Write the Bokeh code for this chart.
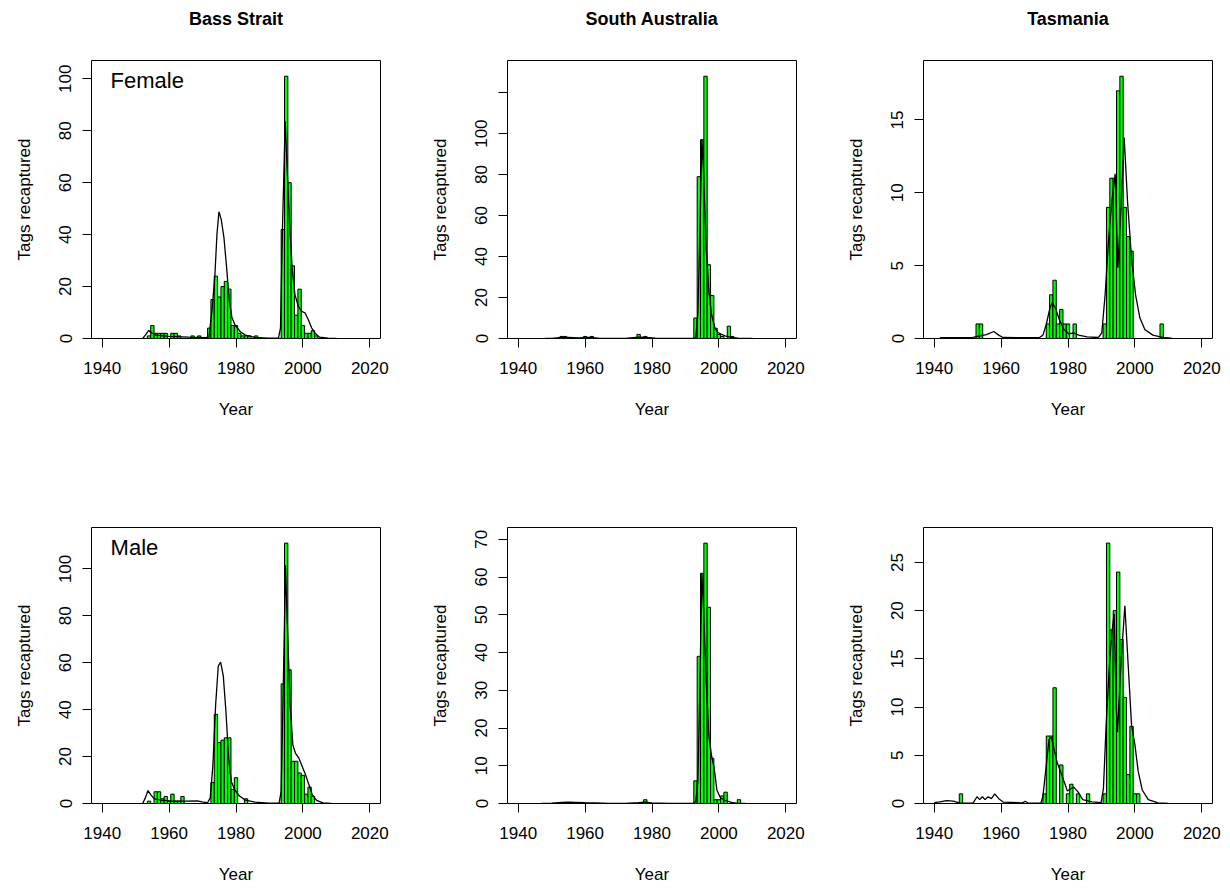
from bokeh.plotting import figure
from bokeh.layouts import column, row
from bokeh.models import Range1d, FixedTicker, Label, Title
from bokeh.embed import file_html
from bokeh.resources import INLINE

regions = ["Bass Strait", "South Australia", "Tasmania"]
sexes = ["Female", "Male"]
x_ticks = [1940, 1960, 1980, 2000, 2020]

# ---------------- Bass Strait, Female ----------------
bs_f_years = [1954, 1955, 1956, 1957, 1958, 1959, 1961, 1962, 1963, 1967, 1969,
              1972, 1973, 1974, 1975, 1976, 1977, 1978, 1979, 1980, 1981, 1982, 1983, 1984, 1986,
              1994, 1995, 1996, 1997, 1998, 1999, 2000, 2001, 2002, 2003, 2004]
bs_f_counts = [1, 5, 2, 2, 2, 2, 2, 2, 1, 1, 1,
               4, 15, 24, 16, 20, 22, 19, 5, 5, 2, 1, 1, 1, 1,
               42, 101, 60, 28, 9, 19, 5, 2, 2, 3, 1]
bs_f_dens_x = [1952.1, 1952.9, 1953.9, 1954.7, 1956.0, 1960.0, 1965.9, 1970.9, 1971.9, 1972.9,
               1973.7, 1974.3, 1974.9, 1975.6, 1976.4, 1977.2, 1978.0, 1978.8, 1979.8, 1981.3,
               1982.8, 1985.7, 1989.7, 1992.7, 1993.3, 1993.9, 1994.7, 1995.2, 1996.0, 1996.8,
               1997.6, 1998.6, 1999.6, 2000.6, 2001.6, 2002.6, 2003.8, 2005.0, 2007.5, 2010.0]
bs_f_dens_y = [0, 1.3, 3.1, 2.2, 1.3, 0.8, 0.5, 0.3, 0.5, 11.8,
               24.6, 40, 48.8, 45.8, 38.8, 27.2, 14.4, 8, 5, 2.6,
               1.3, 0.4, 0.1, 0.1, 4, 42.6, 83.7, 68, 45, 27,
               17, 12.5, 10.5, 9.9, 7.3, 4.1, 1.8, 0.5, 0.1, 0]
bs_f_yticks = [0, 20, 40, 60, 80, 100]

# ---------------- South Australia, Female ----------------
sa_f_years = [1953, 1954, 1960, 1962, 1976, 1978, 1993, 1994, 1995, 1996, 1997, 1998, 1999,
              2000, 2001, 2003, 2004]
sa_f_counts = [1, 1, 1, 1, 2, 1, 10, 79, 97, 128, 36, 21, 5, 2, 1, 6, 1]
sa_f_dens_x = [1948, 1950, 1953, 1955, 1958, 1961, 1964, 1968, 1972, 1976, 1978, 1981, 1985, 1990,
               1992.4, 1993.1, 1993.7, 1994.3, 1994.9, 1995.4, 1996.2, 1997.0, 1997.8, 1998.8,
               1999.8, 2001.8, 2003.8, 2005.7, 2008, 2010]
sa_f_dens_y = [0, 0.1, 0.5, 0.5, 0.3, 0.5, 0.2, 0.05, 0.1, 0.6, 0.5, 0.2, 0.05, 0.05,
               0.1, 0.7, 11.7, 50.9, 97.3, 81.8, 44.3, 23.1, 11.7, 5.2,
               2.8, 1.3, 0.5, 0.2, 0.05, 0]
sa_f_yticks = [0, 20, 40, 60, 80, 100, 120]

# ---------------- Tasmania, Female ----------------
ta_f_years = [1953, 1954, 1974, 1975, 1976, 1977, 1978, 1979, 1980, 1982,
              1991, 1992, 1993, 1994, 1995, 1996, 1997, 1998, 1999, 2008]
ta_f_counts = [1, 1, 1, 3, 4, 1, 2, 1, 1, 1,
               1, 9, 11, 11, 17, 18, 9, 7, 6, 1]
ta_f_dens_x = [1941.7, 1951.6, 1953.6, 1955.6, 1957.8, 1959.3, 1960.5, 1971.4, 1972.5, 1973.5,
               1974.6, 1975.3, 1976.3, 1977.5, 1978.8, 1980.2, 1981.7, 1983.2, 1985.7, 1989.1,
               1990.1, 1991.1, 1992.1, 1993.1, 1994.1, 1994.9, 1995.9, 1996.8, 1997.8, 1999.0,
               2000.2, 2001.5, 2003.0, 2005.4, 2008.9, 2011]
ta_f_dens_y = [0.05, 0.07, 0.18, 0.27, 0.48, 0.23, 0.07, 0.05, 0.23, 0.96,
               2.1, 2.45, 2.06, 1.24, 0.62, 0.32, 0.39, 0.23, 0.11, 0.07,
               0.39, 3.0, 6.7, 9.4, 11.3, 4.85, 9.2, 13.8, 9.4, 5.5,
               3.0, 1.4, 0.6, 0.23, 0.05, 0.02]
ta_f_yticks = [0, 5, 10, 15]

# ---------------- Bass Strait, Male ----------------
bs_m_years = [1954, 1956, 1957, 1958, 1959, 1960, 1961, 1962, 1963, 1964,
              1973, 1974, 1975, 1976, 1977, 1978, 1979, 1980, 1983,
              1994, 1995, 1996, 1997, 1998, 1999, 2000, 2001, 2002, 2003]
bs_m_counts = [1, 5, 5, 2, 3, 1, 4, 1, 1, 3,
               9, 38, 26, 27, 28, 28, 6, 11, 2,
               51, 111, 57, 18, 18, 13, 12, 4, 7, 3]
bs_m_dens_x = [1952.1, 1952.9, 1953.7, 1954.5, 1955.5, 1957.5, 1961.0, 1965.0, 1968.4, 1969.9,
               1971.5, 1972.3, 1973.1, 1973.9, 1974.7, 1975.4, 1976.2, 1977.0, 1977.8, 1978.6,
               1979.6, 1980.8, 1982.8, 1985.7, 1989.7, 1992.9, 1993.5, 1994.1, 1994.8, 1995.4,
               1996.2, 1997.0, 1997.8, 1998.8, 1999.8, 2000.8, 2001.8, 2002.8, 2004.1, 2006.0, 2008.5]
bs_m_dens_y = [0, 2.4, 5.5, 3.8, 2.1, 1.4, 1.0, 1.0, 1.1, 0.7,
               0.3, 2.4, 16.5, 41.8, 58.6, 60.3, 54.4, 39, 19.3, 9.4,
               5.9, 3.5, 1.4, 0.6, 0.1, 0.3, 5.2, 47.4, 101.5, 74,
               41.8, 24.9, 21.4, 19.3, 15.8, 12.2, 8, 3.8, 1.3, 0.3, 0]
bs_m_yticks = [0, 20, 40, 60, 80, 100]

# ---------------- South Australia, Male ----------------
sa_m_years = [1978, 1993, 1994, 1995, 1996, 1997, 1998, 1999, 2000, 2001, 2002, 2006]
sa_m_counts = [1, 6, 39, 61, 69, 52, 12, 1, 1, 2, 3, 1]
sa_m_dens_x = [1947, 1950, 1953, 1955, 1957, 1960, 1963, 1967, 1972, 1976, 1978, 1980, 1985, 1990,
               1992.4, 1993.1, 1993.7, 1994.3, 1994.9, 1995.4, 1996.2, 1997.0, 1997.8, 1998.6,
               1999.4, 2000.4, 2001.8, 2003.8, 2005.7, 2008]
sa_m_dens_y = [0, 0.1, 0.3, 0.35, 0.3, 0.2, 0.15, 0.05, 0.05, 0.2, 0.35, 0.15, 0.03, 0.03,
               0.05, 0.6, 5.8, 30, 61, 51.7, 32.6, 17.9, 12.7, 9.3,
               3.6, 1.6, 0.8, 0.3, 0.05, 0]
sa_m_yticks = [0, 10, 20, 30, 40, 50, 60, 70]

# ---------------- Tasmania, Male ----------------
ta_m_years = [1948, 1973, 1974, 1975, 1976, 1978, 1980, 1981, 1983, 1986,
              1991, 1992, 1993, 1994, 1995, 1996, 1997, 1998, 1999, 2000, 2001]
ta_m_counts = [1, 1, 7, 7, 12, 4, 1, 2, 1, 1,
               1, 27, 18, 20, 24, 17, 11, 3, 8, 1, 1]
ta_m_dens_x = [1940, 1941.7, 1943.7, 1945.7, 1947.7, 1951.6, 1952.8, 1953.6, 1954.4, 1955.2,
               1956.1, 1957.1, 1958.1, 1959.3, 1960.7, 1966.4, 1967.2, 1968.2, 1971.9, 1972.5,
               1973.3, 1974.3, 1975.0, 1975.8, 1976.8, 1977.8, 1978.8, 1979.8, 1980.7, 1981.7,
               1983.0, 1984.4, 1987.2, 1989.9, 1990.6, 1991.4, 1992.3, 1993.1, 1993.8, 1994.4,
               1994.8, 1995.9, 1997.0, 1998.0, 1999.0, 2000.0, 2001.0, 2002.2, 2004.0, 2006.9, 2010]
ta_m_dens_y = [0.1, 0.17, 0.3, 0.24, 0.03, 0.03, 0.7, 0.4, 0.7, 0.4,
               0.7, 0.5, 1.0, 0.5, 0.14, 0.07, 0.24, 0.03, 0.03, 0.75,
               3.3, 6.6, 6.9, 5.7, 4.2, 3.3, 2.3, 1.3, 1.5, 1.7,
               1.2, 0.4, 0.17, 0.1, 1.6, 8.1, 13.9, 17.7, 19.7, 10.2,
               7.4, 14.9, 20.5, 14.3, 8.1, 6.1, 3.3, 1.4, 0.4, 0.07, 0]
ta_m_yticks = [0, 5, 10, 15, 20, 25]

FONT = "Liberation Sans"
TICK_SIZE = "17px"


def make_panel(col, rowi, years, counts, dens_x, dens_y, yticks, hidden_ticks=()):
    ytop = 1.06 * max(counts)
    width = 416 if col < 2 else 390
    right = 36 if col < 2 else 10
    if rowi == 0:
        height, top, bottom, frame_h = 432, 60, 94, 278
    else:
        height, top, bottom, frame_h = 454, 95, 80, 279
    p = figure(width=width, height=height,
               x_range=Range1d(1936.8, 2023.2), y_range=Range1d(0, ytop),
               output_backend="svg", toolbar_location=None,
               min_border_left=91, min_border_right=right,
               min_border_top=top, min_border_bottom=bottom,
               background_fill_color="white", border_fill_color="white")
    p.grid.visible = False
    p.outline_line_color = "black"
    p.outline_line_width = 1
    p.outline_line_alpha = 1.0

    p.vbar(x=years, top=counts, width=1, bottom=0,
           fill_color="#00FF00", line_color="black", line_width=1)
    p.line(dens_x, dens_y, line_color="black", line_width=1.3)

    p.xaxis.ticker = FixedTicker(ticks=x_ticks)
    p.yaxis.ticker = FixedTicker(ticks=yticks)
    if hidden_ticks:
        p.yaxis.major_label_overrides = {t: "" for t in hidden_ticks}
    p.xaxis.axis_label = "Year"
    p.yaxis.axis_label = "Tags recaptured"
    p.yaxis.major_label_orientation = "vertical"
    for ax in (p.xaxis[0], p.yaxis[0]):
        ax.axis_line_color = None
        ax.major_tick_in = 0
        ax.major_tick_out = 9
        ax.major_tick_line_color = "black"
        ax.major_tick_line_width = 1
        ax.minor_tick_line_color = None
        ax.major_label_text_font = FONT
        ax.major_label_text_font_size = TICK_SIZE
        ax.major_label_text_color = "black"
        ax.axis_label_text_font = FONT
        ax.axis_label_text_font_size = TICK_SIZE
        ax.axis_label_text_font_style = "normal"
        ax.axis_label_text_color = "black"
    p.xaxis.major_label_standoff = 14
    p.yaxis.major_label_standoff = 11
    p.xaxis.axis_label_standoff = 23
    p.yaxis.axis_label_standoff = 23

    px = ytop / frame_h  # data units per pixel vertically
    if rowi == 0:
        p.add_layout(Title(text=" ", text_font_size="13px"), "above")
        p.add_layout(Title(text=regions[col], align="center",
                           text_font=FONT, text_font_size="18px",
                           text_font_style="bold", text_color="black"), "above")
    if col == 0:
        p.add_layout(Label(x=1942.5, y=ytop - 20 * px, text=sexes[rowi],
                           text_align="left", text_baseline="alphabetic",
                           text_font=FONT, text_font_size="22px", text_color="black"))
    return p


p1 = make_panel(0, 0, bs_f_years, bs_f_counts, bs_f_dens_x, bs_f_dens_y, bs_f_yticks)
p2 = make_panel(1, 0, sa_f_years, sa_f_counts, sa_f_dens_x, sa_f_dens_y, sa_f_yticks, hidden_ticks=(120,))
p3 = make_panel(2, 0, ta_f_years, ta_f_counts, ta_f_dens_x, ta_f_dens_y, ta_f_yticks)
p4 = make_panel(0, 1, bs_m_years, bs_m_counts, bs_m_dens_x, bs_m_dens_y, bs_m_yticks)
p5 = make_panel(1, 1, sa_m_years, sa_m_counts, sa_m_dens_x, sa_m_dens_y, sa_m_yticks)
p6 = make_panel(2, 1, ta_m_years, ta_m_counts, ta_m_dens_x, ta_m_dens_y, ta_m_yticks)

layout = column(row(p1, p2, p3), row(p4, p5, p6))
open("out.html", "w").write(file_html(layout, INLINE))
